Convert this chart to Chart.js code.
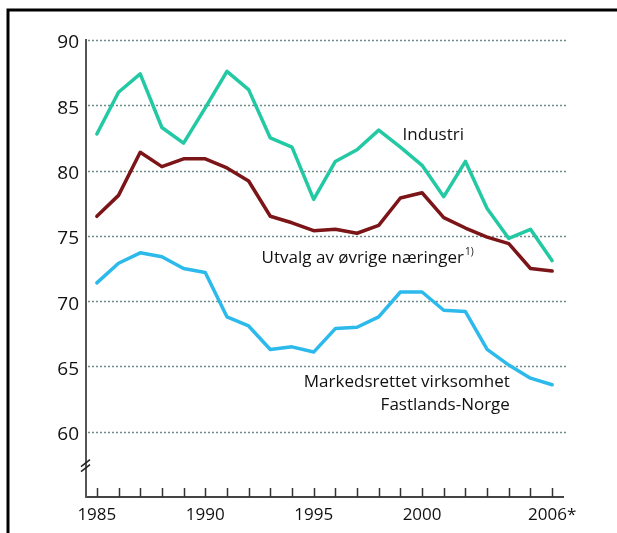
<!DOCTYPE html>
<html>
<head>
<meta charset="utf-8">
<script src="https://cdn.jsdelivr.net/npm/chart.js@4"></script>
<style>
  html, body { margin: 0; padding: 0; background: #fff; }
  #wrap { width: 617px; height: 533px; position: relative; }
</style>
</head>
<body>
<div id="wrap"><canvas id="chart" width="617" height="533"></canvas></div>
<script>
// Data
const years = [1985, 1986, 1987, 1988, 1989, 1990, 1991, 1992, 1993, 1994, 1995,
  1996, 1997, 1998, 1999, 2000, 2001, 2002, 2003, 2004, 2005, 2006];
const yearLabels = ["1985", "", "", "", "", "1990", "", "", "", "", "1995",
  "", "", "", "", "2000", "", "", "", "", "", "2006*"];
const industri = [82.8, 86.0, 87.4, 83.3, 82.1, 84.8, 87.6, 86.2, 82.5, 81.8, 77.8,
  80.7, 81.6, 83.1, 81.8, 80.4, 78.0, 80.7, 77.1, 74.8, 75.5, 73.1];
const utvalg = [76.5, 78.1, 81.4, 80.3, 80.9, 80.9, 80.2, 79.2, 76.5, 76.0, 75.4,
  75.5, 75.2, 75.8, 77.9, 78.3, 76.4, 75.6, 74.9, 74.4, 72.5, 72.3];
const markedsrettet = [71.4, 72.9, 73.7, 73.4, 72.5, 72.2, 68.8, 68.1, 66.3, 66.5, 66.1,
  67.9, 68.0, 68.8, 70.7, 70.7, 69.3, 69.2, 66.3, 65.1, 64.1, 63.6];
const gridValues = [60, 65, 70, 75, 80, 85, 90];

// Series labels: [text, x index, y value, align]
const seriesLabels = [
  ["Industri", 14.1, 82.7, "left"],
  ["Utvalg av øvrige næringer", 7.6, 73.3, "left"],
  ["Markedsrettet virksomhet", 19.05, 63.8, "right"],
  ["Fastlands-Norge", 19.05, 62.0, "right"],
];

const FONT = "'Open Sans', 'DejaVu Sans', sans-serif";

// Frame, dotted grid, inward ticks, axis break and series labels
const decorPlugin = {
  id: "decor",
  beforeDatasetsDraw: (chart) => {
    const ctx = chart.ctx;
    const x = chart.scales.x;
    const y = chart.scales.y;
    ctx.save();
    // dotted grid lines
    ctx.strokeStyle = "#6f8a8c";
    ctx.lineWidth = 1.5;
    ctx.setLineDash([2, 2]);
    gridValues.forEach((v) => {
      const py = Math.round(y.getPixelForValue(v)) + 0.5;
      ctx.beginPath();
      ctx.moveTo(x.left + 2, py);
      ctx.lineTo(x.right + 3, py);
      ctx.stroke();
    });
    ctx.setLineDash([]);
    ctx.restore();
  },
  afterDraw: (chart) => {
    const ctx = chart.ctx;
    const x = chart.scales.x;
    const y = chart.scales.y;
    ctx.save();
    // frame (top and left only)
    ctx.strokeStyle = "#000";
    ctx.lineWidth = 3;
    ctx.beginPath();
    ctx.moveTo(8, 533);
    ctx.lineTo(8, 10);
    ctx.lineTo(617, 10);
    ctx.stroke();

    // inward tick marks on x axis
    ctx.strokeStyle = "#333";
    ctx.lineWidth = 1.5;
    years.forEach((_, i) => {
      const px = Math.round(x.getPixelForValue(i)) + 0.5;
      ctx.beginPath();
      ctx.moveTo(px, y.bottom);
      ctx.lineTo(px, y.bottom - 9);
      ctx.stroke();
    });

    // axis break
    const by = y.getPixelForValue(57.4);
    ctx.lineWidth = 1.5;
    ctx.strokeStyle = "#222";
    [-2.5, 2.5].forEach((d) => {
      ctx.beginPath();
      ctx.moveTo(x.left - 5, by + d + 3.5);
      ctx.lineTo(x.left + 4, by + d - 3.5);
      ctx.stroke();
    });

    // series labels
    ctx.fillStyle = "#111";
    ctx.textBaseline = "middle";
    ctx.font = "17px " + FONT;
    seriesLabels.forEach(([t, xi, yv, align]) => {
      ctx.textAlign = align;
      const px = x.getPixelForValue(0) + (x.getPixelForValue(1) - x.getPixelForValue(0)) * xi;
      const py = y.getPixelForValue(yv);
      ctx.fillText(t, px, py);
      if (t.startsWith("Utvalg")) {
        const w = ctx.measureText(t).width;
        ctx.font = "10px " + FONT;
        ctx.textAlign = "left";
        ctx.fillText("1)", px + w + 1, py - 6);
        ctx.font = "17px " + FONT;
      }
    });
    ctx.restore();
  },
};

const lineStyle = { borderWidth: 3.5, pointRadius: 0, fill: false, tension: 0, borderJoinStyle: "round", borderCapStyle: "round" };

const config = {
  type: "line",
  data: {
    labels: yearLabels,
    datasets: [
      { label: "Industri", data: industri, borderColor: "#22c9a2", ...lineStyle },
      { label: "Utvalg av øvrige næringer", data: utvalg, borderColor: "#7b1518", ...lineStyle },
      { label: "Markedsrettet virksomhet Fastlands-Norge", data: markedsrettet, borderColor: "#2cb9ec", ...lineStyle },
    ],
  },
  options: {
    responsive: false,
    animation: false,
    layout: { padding: { left: 0, top: 40, right: 54, bottom: 0 } },
    scales: {
      x: {
        type: "category",
        offset: true,
        grid: { display: false, drawTicks: false },
        border: { display: true, color: "#444", width: 2 },
        ticks: {
          autoSkip: false,
          maxRotation: 0,
          padding: 8,
          color: "#111",
          font: { family: FONT, size: 17 },
        },
        afterFit: (scale) => { scale.height = 36; },
      },
      y: {
        min: 55,
        max: 90,
        grid: { display: false, drawTicks: false },
        border: { display: true, color: "#555", width: 2 },
        ticks: {
          stepSize: 5,
          padding: 7,
          labelOffset: 3,
          color: "#111",
          font: { family: FONT, size: 19 },
          callback: (v) => (v === 55 ? "" : v),
        },
        afterFit: (scale) => { scale.width = 86; },
      },
    },
    plugins: {
      legend: { display: false },
      tooltip: { enabled: false },
    },
  },
  plugins: [decorPlugin],
};

const chart = new Chart(document.getElementById("chart").getContext("2d"), config);
</script>
</body>
</html>
